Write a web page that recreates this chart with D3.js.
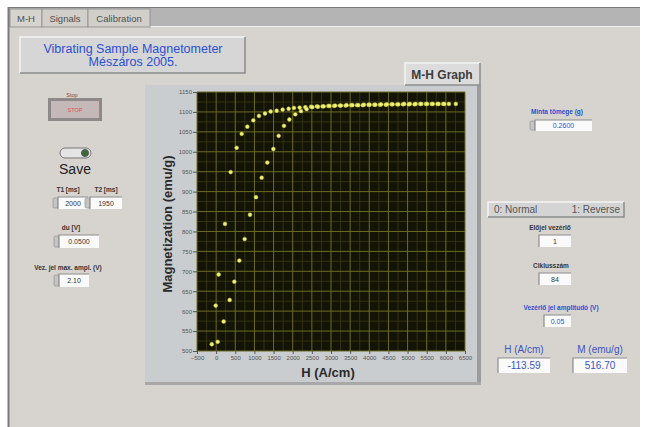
<!DOCTYPE html>
<html>
<head>
<meta charset="utf-8">
<script src="https://cdn.jsdelivr.net/npm/d3@7"></script>
<style>
  body { margin: 0; background: #fff; }
  svg { display: block; font-family: "Liberation Sans", Arial, sans-serif; }
</style>
</head>
<body>
<div id="container"></div>
<script>
const width = 646;
const height = 427;

// decreasing-field branch (upper curve), [H (A/cm), M (emu/g)]
const upperBranch = [
  [-114, 517], [-12, 614], [66, 692], [231, 819], [379, 949], [536, 1010],
  [667, 1045], [815, 1063], [971, 1079], [1119, 1090], [1276, 1096],
  [1424, 1101], [1581, 1103], [1737, 1106], [1894, 1108], [2033, 1110],
  [2180, 1111], [2330, 1112], [2480, 1113], [2630, 1114], [2780, 1114],
  [2930, 1115], [3080, 1115], [3230, 1116], [3380, 1116], [3530, 1117],
  [3680, 1117], [3830, 1117], [3980, 1118], [4130, 1118], [4280, 1118],
  [4430, 1118], [4580, 1119], [4730, 1119], [4880, 1119], [5030, 1119],
  [5180, 1119], [5330, 1120], [5480, 1120], [5630, 1120], [5780, 1120],
  [5930, 1120], [6080, 1120], [6260, 1120]
];

// increasing-field branch (lower curve)
const lowerBranch = [
  [40, 523], [196, 574], [353, 628], [475, 674], [606, 727], [745, 781],
  [884, 842], [1041, 886], [1189, 935], [1337, 973], [1494, 1007],
  [1633, 1040], [1772, 1065], [1912, 1081], [2068, 1094], [2216, 1102],
  [2364, 1107], [2512, 1112], [2660, 1113], [2810, 1114], [2960, 1115],
  [3110, 1116], [3260, 1116], [3410, 1117], [3560, 1117], [3710, 1117],
  [3860, 1118], [4010, 1118], [4160, 1118], [4310, 1119], [4460, 1119],
  [4610, 1119], [4760, 1119], [4910, 1120], [5060, 1120], [5210, 1120],
  [5360, 1120], [5510, 1120], [5660, 1120], [5810, 1120], [5960, 1120]
];

const xTicks = d3.range(-500, 6501, 500);
const yTicks = d3.range(500, 1151, 50);

const tabs = ['M-H', 'Signals', 'Calibration'];
const titleLines = ['Vibrating Sample Magnetometer', 'Mészáros 2005.'];

const xScale = d3.scaleLinear().domain([-500, 6500]).range([197, 465]);
const yScale = d3.scaleLinear().domain([500, 1150]).range([351, 92]);

const svg = d3.select('#container')
  .append('svg')
  .attr('width', width)
  .attr('height', height);

// panel + tab strip
svg.append('rect').attr('x', 8).attr('y', 7).attr('width', 632).attr('height', 420).attr('fill', '#d7d4cf');
svg.append('rect').attr('x', 8).attr('y', 7).attr('width', 632).attr('height', 20).attr('fill', '#b4b4b4');
svg.append('line').attr('x1', 8).attr('x2', 640).attr('y1', 7.5).attr('y2', 7.5).attr('stroke', '#7a7a7a');
svg.append('line').attr('x1', 8.5).attr('x2', 8.5).attr('y1', 7).attr('y2', 427).attr('stroke', '#7a7a7a').attr('stroke-width', 2);
svg.append('line').attr('x1', 150).attr('x2', 640).attr('y1', 26.5).attr('y2', 26.5).attr('stroke', '#f0f0f0');

const tabX = [10, 42, 88];
const tabW = [32, 46, 62];
const tabG = svg.append('g').selectAll('g').data(tabs).join('g')
  .attr('transform', (d, i) => `translate(${tabX[i]},9)`);
tabG.append('rect')
  .attr('width', (d, i) => tabW[i]).attr('height', 18)
  .attr('fill', (d, i) => i === 0 ? '#d7d4cf' : '#d2cfca')
  .attr('stroke', '#8a8a8a').attr('stroke-width', 0.8);
tabG.append('text')
  .attr('x', (d, i) => tabW[i] / 2).attr('y', 13)
  .attr('text-anchor', 'middle').attr('font-size', 9.5).attr('fill', '#505050')
  .text(d => d);

// raised box helper
function bevel(g, x, y, w, h, fill) {
  g.append('rect').attr('x', x).attr('y', y).attr('width', w).attr('height', h).attr('fill', fill);
  g.append('path').attr('d', `M${x},${y + h}V${y}H${x + w}`).attr('fill', 'none').attr('stroke', '#f4f4f4').attr('stroke-width', 1.5);
  g.append('path').attr('d', `M${x},${y + h}H${x + w}V${y}`).attr('fill', 'none').attr('stroke', '#8c8c8c').attr('stroke-width', 1.5);
}

// title box
bevel(svg, 20, 37, 225, 36, '#d6d6d6');
svg.append('g').selectAll('text').data(titleLines).join('text')
  .attr('x', 133).attr('y', (d, i) => 53 + i * 13)
  .attr('text-anchor', 'middle').attr('font-size', 12.5).attr('fill', '#2b4fd2')
  .text(d => d);

// graph frame
svg.append('rect').attr('x', 145).attr('y', 85).attr('width', 336).attr('height', 300).attr('fill', '#cacdcf');
svg.append('rect').attr('x', 477).attr('y', 85).attr('width', 4).attr('height', 300).attr('fill', '#9c9c9c');
svg.append('rect').attr('x', 145).attr('y', 382).attr('width', 336).attr('height', 3).attr('fill', '#a8a8a8');
bevel(svg, 405, 63, 75, 22, '#dcdcdc');
svg.append('text').attr('x', 442).attr('y', 79).attr('text-anchor', 'middle')
  .attr('font-size', 12).attr('font-weight', 'bold').attr('fill', '#3c3c3c').text('M-H Graph');

// plot area
const [px0, px1] = xScale.range();
const [py0, py1] = yScale.range();
svg.append('rect').attr('x', px0).attr('y', py1).attr('width', px1 - px0).attr('height', py0 - py1).attr('fill', '#141406');

const minorX = xTicks.slice(0, -1).map(d => d + 250);
const minorY = yTicks.slice(0, -1).map(d => d + 25);
svg.append('g').selectAll('line').data(minorX).join('line')
  .attr('x1', d => xScale(d)).attr('x2', d => xScale(d)).attr('y1', py1).attr('y2', py0)
  .attr('stroke', '#3a3a14').attr('stroke-width', 0.8);
svg.append('g').selectAll('line').data(minorY).join('line')
  .attr('y1', d => yScale(d)).attr('y2', d => yScale(d)).attr('x1', px0).attr('x2', px1)
  .attr('stroke', '#3a3a14').attr('stroke-width', 0.8);
svg.append('g').selectAll('line').data(xTicks).join('line')
  .attr('x1', d => xScale(d)).attr('x2', d => xScale(d)).attr('y1', py1).attr('y2', py0)
  .attr('stroke', '#6b6b24').attr('stroke-width', 1);
svg.append('g').selectAll('line').data(yTicks).join('line')
  .attr('y1', d => yScale(d)).attr('y2', d => yScale(d)).attr('x1', px0).attr('x2', px1)
  .attr('stroke', '#6b6b24').attr('stroke-width', 1);

// axes
svg.append('g')
  .attr('transform', `translate(0,${py0})`)
  .call(d3.axisBottom(xScale).tickValues(xTicks).tickFormat(d3.format('d')).tickSize(3).tickSizeOuter(0))
  .call(el => el.select('.domain').remove())
  .call(el => el.selectAll('.tick line').attr('stroke', '#555'))
  .call(el => el.selectAll('.tick text').attr('font-size', 6).attr('fill', '#555').attr('dy', '0.5em'));
svg.append('g')
  .attr('transform', `translate(${px0},0)`)
  .call(d3.axisLeft(yScale).tickValues(yTicks).tickFormat(d3.format('d')).tickSize(4).tickSizeOuter(0))
  .call(el => el.select('.domain').remove())
  .call(el => el.selectAll('.tick line').attr('stroke', '#555'))
  .call(el => el.selectAll('.tick text').attr('font-size', 6).attr('fill', '#555').attr('x', -5));

svg.append('text').attr('x', 328).attr('y', 377).attr('text-anchor', 'middle')
  .attr('font-size', 13).attr('font-weight', 'bold').attr('fill', '#2a2a2a').text('H (A/cm)');
svg.append('text').attr('transform', 'translate(172,224) rotate(-90)').attr('text-anchor', 'middle')
  .attr('font-size', 13).attr('font-weight', 'bold').attr('fill', '#2a2a2a').text('Magnetization (emu/g)');

// points
const points = upperBranch.concat(lowerBranch);
svg.append('g').selectAll('circle').data(points).join('circle')
  .attr('cx', d => xScale(d[0])).attr('cy', d => yScale(d[1]))
  .attr('r', 1.9).attr('fill', '#f2f27a').attr('stroke', '#c8c83a').attr('stroke-width', 0.5);

// left controls
svg.append('text').attr('x', 72).attr('y', 97).attr('text-anchor', 'middle')
  .attr('font-size', 5.5).attr('fill', '#804040').text('Stop');
svg.append('rect').attr('x', 48).attr('y', 98).attr('width', 54).attr('height', 23).attr('fill', '#8e8888');
svg.append('rect').attr('x', 51).attr('y', 101).attr('width', 48).attr('height', 17).attr('fill', '#c4b8b8');
svg.append('text').attr('x', 75).attr('y', 112).attr('text-anchor', 'middle')
  .attr('font-size', 5.5).attr('fill', '#e05050').text('STOP');

svg.append('rect').attr('x', 60).attr('y', 148).attr('width', 31).attr('height', 10).attr('rx', 5)
  .attr('fill', '#e4e4e4').attr('stroke', '#777').attr('stroke-width', 1);
svg.append('circle').attr('cx', 85).attr('cy', 153).attr('r', 3.5).attr('fill', '#3c6a34').attr('stroke', '#555');
svg.append('text').attr('x', 75).attr('y', 174).attr('text-anchor', 'middle')
  .attr('font-size', 14).attr('fill', '#222').text('Save');

// numeric control helper
function numeric(x, y, w, h, value, color, spinner, size) {
  if (spinner) {
    svg.append('rect').attr('x', x - 5).attr('y', y + 1).attr('width', 5).attr('height', h - 2).attr('rx', 1.5)
      .attr('fill', '#c4c4c4').attr('stroke', '#8a8a8a').attr('stroke-width', 0.6);
  }
  svg.append('rect').attr('x', x).attr('y', y).attr('width', w).attr('height', h).attr('fill', '#fafafa');
  svg.append('path').attr('d', `M${x},${y + h}V${y}H${x + w}`).attr('fill', 'none').attr('stroke', '#8c8c8c').attr('stroke-width', 1.2);
  svg.append('text').attr('x', x + w / 2).attr('y', y + h / 2 + (size ? 3.5 : 2.5)).attr('text-anchor', 'middle')
    .attr('font-size', size || 7).attr('fill', color).text(value);
}
function label(x, y, text, color, size, weight) {
  svg.append('text').attr('x', x).attr('y', y).attr('text-anchor', 'middle')
    .attr('font-size', size || 6.5).attr('font-weight', weight || 'bold').attr('fill', color).text(text);
}

label(68, 192, 'T1 [ms]', '#333');
numeric(58, 197, 30, 12, '2000', '#333', true);
label(106, 192, 'T2 [ms]', '#333');
numeric(90, 197, 32, 12, '1950', '#333', true);
label(71, 230, 'du [V]', '#333');
numeric(59, 235, 40, 13, '0.0500', '#333', true);
label(68, 270, 'Vez. jel max. ampl. (V)', '#333');
numeric(59, 274, 30, 13, '2.10', '#333', true);

// right controls
label(557, 114, 'Minta tömege (g)', '#2b4fd2');
numeric(535, 120, 57, 11, '0.2600', '#2b4fd2', true);

bevel(svg, 488, 202, 136, 15, '#d4d4d4');
svg.append('text').attr('x', 494).attr('y', 213).attr('font-size', 10).attr('fill', '#555').text('0: Normal');
svg.append('text').attr('x', 620).attr('y', 213).attr('text-anchor', 'end').attr('font-size', 10).attr('fill', '#555').text('1: Reverse');

label(550, 230, 'Előjel vezérlő', '#333');
numeric(539, 235, 32, 12, '1', '#333', false);
label(551, 268, 'Ciklusszám', '#333');
numeric(539, 273, 32, 12, '84', '#333', false);
label(561, 310, 'Vezérlő jel amplitudó (V)', '#2b4fd2');
numeric(544, 315, 27, 12, '0.05', '#2b4fd2', false);

label(524, 353, 'H (A/cm)', '#3a55c0', 10, 'normal');
label(600, 353, 'M (emu/g)', '#3a55c0', 10, 'normal');
numeric(498, 358, 52, 15, '-113.59', '#3a55c0', false, 10);
numeric(573, 358, 54, 15, '516.70', '#3a55c0', false, 10);
</script>
</body>
</html>
